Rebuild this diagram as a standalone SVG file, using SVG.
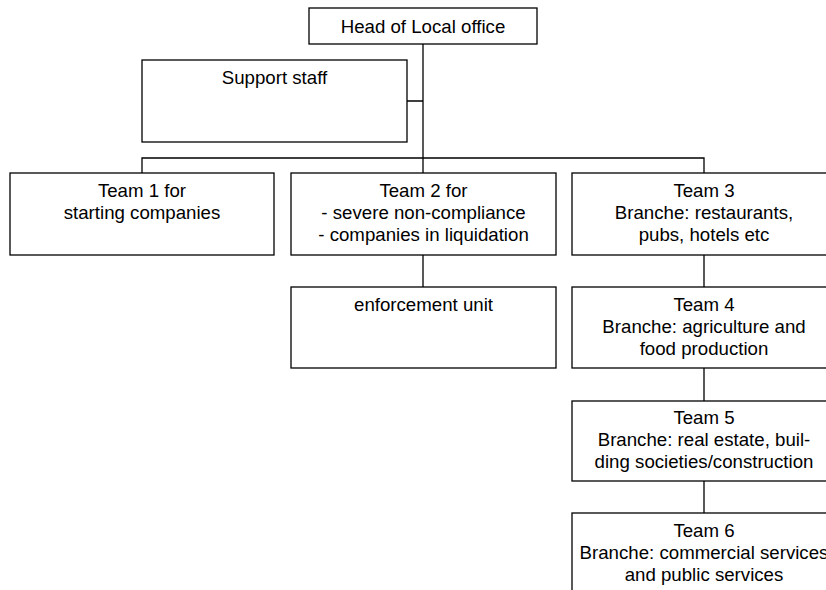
<svg xmlns="http://www.w3.org/2000/svg" width="826" height="590" viewBox="0 0 826 590">
<style>
.box{fill:#fff;stroke:#000;stroke-width:1.3}
.ln{fill:none;stroke:#000;stroke-width:1.3}
text{font-family:"Liberation Sans",Arial,sans-serif;font-size:18.67px;fill:#000;text-anchor:middle}
</style>
<rect width="826" height="590" fill="#fff"/>
<g id="connectors">
<path class="ln" d="M423 44V173M407 101H423M142 173V158H704V173M423 255V287M704 255V287M704 368V401M704 481V513"/>
</g>
<g id="head"><rect class="box" x="309" y="8" width="228" height="36"/><text x="423" y="33">Head of Local office</text></g>
<g id="support"><rect class="box" x="142" y="60" width="265" height="82"/><text x="274.5" y="84">Support staff</text></g>
<g id="team1"><rect class="box" x="10" y="173" width="264" height="82"/><text x="142" y="197">Team 1 for</text><text x="142" y="219">starting companies</text></g>
<g id="team2"><rect class="box" x="291" y="173" width="265" height="82"/><text x="423.5" y="197">Team 2 for</text><text x="423.5" y="219">- severe non-compliance</text><text x="423.5" y="241">- companies in liquidation</text></g>
<g id="team3"><rect class="box" x="572" y="173" width="270" height="82"/><text x="704" y="197">Team 3</text><text x="704" y="219">Branche: restaurants,</text><text x="704" y="241">pubs, hotels etc</text></g>
<g id="enforcement"><rect class="box" x="291" y="287" width="265" height="81"/><text x="423.5" y="311">enforcement unit</text></g>
<g id="team4"><rect class="box" x="572" y="287" width="270" height="81"/><text x="704" y="311">Team 4</text><text x="704" y="333">Branche: agriculture and</text><text x="704" y="355">food production</text></g>
<g id="team5"><rect class="box" x="572" y="401" width="270" height="80"/><text x="704" y="424">Team 5</text><text x="704" y="446">Branche: real estate, buil-</text><text x="704" y="468">ding societies/construction</text></g>
<g id="team6"><rect class="box" x="572" y="513" width="270" height="90"/><text x="704" y="537">Team 6</text><text x="704" y="559">Branche: commercial services</text><text x="704" y="581">and public services</text></g>
</svg>
